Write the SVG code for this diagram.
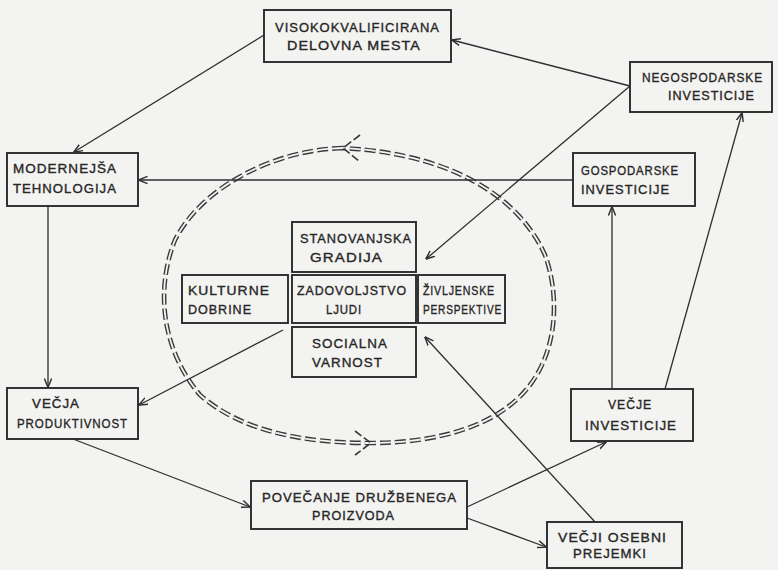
<svg xmlns="http://www.w3.org/2000/svg" width="778" height="570" viewBox="0 0 778 570">
<defs>
<style>
.box{fill:none;stroke:#2a2a2a;stroke-width:1.9}
.t{font-family:"Liberation Sans",Arial,sans-serif;font-size:13px;fill:#262626;stroke:#262626;stroke-width:0.35;letter-spacing:1px}
.c{fill:none;stroke:#2e2e2e;stroke-width:1.3}
.dl{fill:none;stroke:#3a3a3a;stroke-width:4.6;stroke-dasharray:11 4}
.dw{fill:none;stroke:#f3f3f1;stroke-width:1.8;stroke-dasharray:11 4}
.ch{fill:none;stroke:#3a3a3a;stroke-width:1.6;stroke-dasharray:8 3}
</style>
<marker id="ar" viewBox="0 0 10 10" refX="9.5" refY="5" markerWidth="9" markerHeight="9" orient="auto" markerUnits="userSpaceOnUse">
<path d="M0,1 L10,5 L0,9" fill="none" stroke="#2e2e2e" stroke-width="1.6"/>
</marker>
</defs>
<rect width="778" height="570" fill="#f3f3f1"/>

<g id="cycle">
<path class="dl" d="M343,148 C270,150 200,190 175,240 C155,290 162,350 200,395 C240,430 300,443 370,443 C440,443 500,425 530,385 C560,345 558,290 545,255 C525,210 470,155 343,148"/>
<path class="dw" d="M343,148 C270,150 200,190 175,240 C155,290 162,350 200,395 C240,430 300,443 370,443 C440,443 500,425 530,385 C560,345 558,290 545,255 C525,210 470,155 343,148"/>
<path class="ch" d="M360,135 L343,148 L360,162"/>
<path class="ch" d="M355,431 L371,443 L355,455"/>
</g>

<g id="connectors">
<line class="c" x1="630" y1="86" x2="452" y2="40" marker-end="url(#ar)"/>
<line class="c" x1="264" y1="35" x2="74" y2="152" marker-end="url(#ar)"/>
<line class="c" x1="573" y1="180" x2="139" y2="180" marker-end="url(#ar)"/>
<line class="c" x1="48" y1="206" x2="48" y2="387" marker-end="url(#ar)"/>
<line class="c" x1="630" y1="86" x2="426" y2="259" marker-end="url(#ar)"/>
<line class="c" x1="612" y1="389" x2="612" y2="207" marker-end="url(#ar)"/>
<line class="c" x1="665" y1="389" x2="742" y2="113" marker-end="url(#ar)"/>
<line class="c" x1="283" y1="330" x2="139" y2="405" marker-end="url(#ar)"/>
<line class="c" x1="73" y1="439" x2="250" y2="507" marker-end="url(#ar)"/>
<line class="c" x1="467" y1="507" x2="606" y2="442" marker-end="url(#ar)"/>
<line class="c" x1="467" y1="518" x2="546" y2="547" marker-end="url(#ar)"/>
<line class="c" x1="595" y1="522" x2="425" y2="337" marker-end="url(#ar)"/>
</g>

<g id="n-visoko">
<rect class="box" x="264" y="10" width="187" height="52"/>
<text class="t" x="275" y="32" textLength="165" lengthAdjust="spacingAndGlyphs">VISOKOKVALIFICIRANA</text>
<text class="t" x="287" y="50" textLength="134" lengthAdjust="spacingAndGlyphs">DELOVNA  MESTA</text>
</g>
<g id="n-negosp">
<rect class="box" x="630" y="62" width="142" height="50"/>
<text class="t" x="642" y="82" textLength="121" lengthAdjust="spacingAndGlyphs">NEGOSPODARSKE</text>
<text class="t" x="668" y="100" textLength="87" lengthAdjust="spacingAndGlyphs">INVESTICIJE</text>
</g>
<g id="n-modern">
<rect class="box" x="7" y="153" width="131" height="53"/>
<text class="t" x="13" y="173" textLength="104" lengthAdjust="spacingAndGlyphs">MODERNEJŠA</text>
<text class="t" x="13" y="193" textLength="104" lengthAdjust="spacingAndGlyphs">TEHNOLOGIJA</text>
</g>
<g id="n-gosp">
<rect class="box" x="573" y="153" width="122" height="53"/>
<text class="t" x="581" y="175" textLength="98" lengthAdjust="spacingAndGlyphs">GOSPODARSKE</text>
<text class="t" x="581" y="194" textLength="89" lengthAdjust="spacingAndGlyphs">INVESTICIJE</text>
</g>
<g id="n-stan">
<rect class="box" x="292" y="222" width="124" height="50"/>
<text class="t" x="300" y="243" textLength="112" lengthAdjust="spacingAndGlyphs">STANOVANJSKA</text>
<text class="t" x="310" y="262" textLength="73" lengthAdjust="spacingAndGlyphs">GRADIJA</text>
</g>
<g id="n-kult">
<rect class="box" x="182" y="275" width="106" height="48"/>
<text class="t" x="188" y="295" textLength="82" lengthAdjust="spacingAndGlyphs">KULTURNE</text>
<text class="t" x="188" y="314" textLength="64" lengthAdjust="spacingAndGlyphs">DOBRINE</text>
</g>
<g id="n-zadov">
<rect class="box" x="292" y="275" width="124" height="48"/>
<text class="t" x="297" y="295" textLength="110" lengthAdjust="spacingAndGlyphs">ZADOVOLJSTVO</text>
<text class="t" x="326" y="314" textLength="36" lengthAdjust="spacingAndGlyphs">LJUDI</text>
</g>
<g id="n-zivl">
<rect class="box" x="418" y="275" width="87" height="48"/>
<text class="t" x="423" y="295" textLength="72" lengthAdjust="spacingAndGlyphs">ŽIVLJENSKE</text>
<text class="t" x="423" y="314" textLength="79" lengthAdjust="spacingAndGlyphs">PERSPEKTIVE</text>
</g>
<g id="n-soc">
<rect class="box" x="292" y="327" width="124" height="50"/>
<text class="t" x="312" y="348" textLength="76" lengthAdjust="spacingAndGlyphs">SOCIALNA</text>
<text class="t" x="312" y="367" textLength="71" lengthAdjust="spacingAndGlyphs">VARNOST</text>
</g>
<g id="n-vecja">
<rect class="box" x="7" y="388" width="131" height="51"/>
<text class="t" x="32" y="408" textLength="48" lengthAdjust="spacingAndGlyphs">VEČJA</text>
<text class="t" x="17" y="428" textLength="111" lengthAdjust="spacingAndGlyphs">PRODUKTIVNOST</text>
</g>
<g id="n-vecje">
<rect class="box" x="571" y="389" width="122" height="52"/>
<text class="t" x="608" y="409" textLength="44" lengthAdjust="spacingAndGlyphs">VEČJE</text>
<text class="t" x="585" y="430" textLength="92" lengthAdjust="spacingAndGlyphs">INVESTICIJE</text>
</g>
<g id="n-povec">
<rect class="box" x="251" y="481" width="216" height="48"/>
<text class="t" x="262" y="502" textLength="195" lengthAdjust="spacingAndGlyphs">POVEČANJE  DRUŽBENEGA</text>
<text class="t" x="312" y="520" textLength="83" lengthAdjust="spacingAndGlyphs">PROIZVODA</text>
</g>
<g id="n-osebni">
<rect class="box" x="547" y="522" width="135" height="46"/>
<text class="t" x="558" y="542" textLength="109" lengthAdjust="spacingAndGlyphs">VEČJI  OSEBNI</text>
<text class="t" x="573" y="558" textLength="74" lengthAdjust="spacingAndGlyphs">PREJEMKI</text>
</g>
</svg>
